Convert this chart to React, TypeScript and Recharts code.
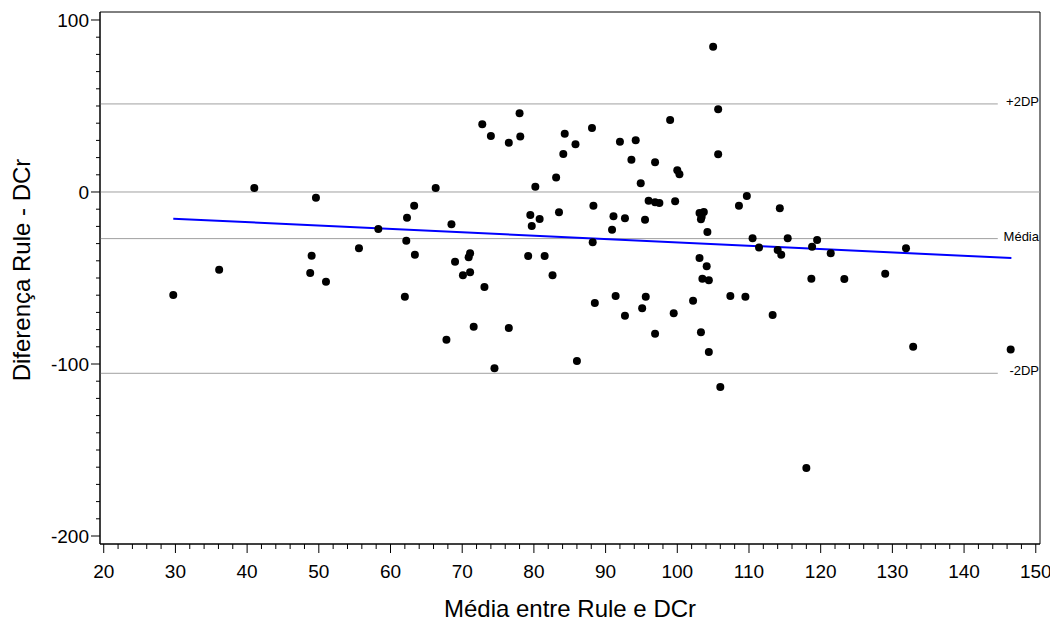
import React from 'react';
import { ScatterChart, Scatter, XAxis, YAxis, ReferenceLine, ReferenceArea } from 'recharts';

// Média entre Rule e DCr (x)
const avgValues = [
  41.0, 49.6, 63.3, 62.3, 58.3, 62.2, 55.6,
  29.7, 36.1, 49.0, 48.8, 51.0, 63.4, 62.0,
  105.0, 105.7, 99.0, 78.0, 72.8, 74.0, 76.5, 78.1, 84.3, 88.1,
  85.8, 84.1, 92.0, 94.2, 105.7, 93.6, 96.9, 100.0, 100.3, 83.1,
  94.9, 66.3, 80.2, 109.7, 96.0, 96.9, 97.5, 99.7, 88.3, 108.6,
  83.5, 79.5, 80.8, 91.1, 92.7, 95.5, 103.1, 103.7, 103.4, 103.3,
  79.7, 68.5, 90.9, 104.2, 88.2,
  71.1, 70.9, 69.0, 70.1, 71.1, 73.1, 79.2, 81.5, 82.6, 67.8,
  71.6, 76.5, 74.5, 86.0, 88.5, 91.4, 92.7, 95.6, 95.1, 96.9,
  99.5, 102.2, 103.1, 104.1, 103.5, 104.4, 103.3, 104.4, 107.4, 109.5,
  106.0,
  114.3, 110.5, 115.4, 119.5, 111.4, 114.0, 114.5, 118.8, 121.4, 131.9,
  118.7, 123.3, 129.0, 113.3, 132.9, 146.5, 118.0,
];

// Diferença Rule - DCr (y)
const diffValues = [
  2.3, -3.3, -8.0, -14.9, -21.5, -28.3, -32.7,
  -59.9, -45.2, -37.0, -47.1, -52.2, -36.5, -60.9,
  84.5, 48.1, 41.9, 45.8, 39.4, 32.6, 28.7, 32.2, 33.9, 37.2,
  27.7, 22.1, 29.2, 30.1, 21.9, 18.8, 17.3, 12.6, 10.3, 8.5,
  5.1, 2.3, 3.1, -2.3, -5.1, -6.0, -6.4, -5.4, -8.0, -8.0,
  -11.8, -13.4, -15.7, -14.1, -15.3, -16.1, -12.2, -11.6, -14.4, -15.9,
  -19.8, -18.8, -21.9, -23.3, -29.2,
  -35.6, -38.0, -40.5, -48.4, -46.7, -55.2, -37.2, -37.2, -48.4, -85.9,
  -78.3, -79.1, -102.5, -98.3, -64.5, -60.5, -71.9, -60.9, -67.6, -82.4,
  -70.5, -63.2, -38.4, -43.2, -50.4, -51.3, -81.6, -93.0, -60.5, -60.9,
  -113.4,
  -9.5, -26.9, -26.9, -27.9, -32.2, -33.7, -36.5, -31.8, -35.6, -32.7,
  -50.4, -50.6, -47.5, -71.5, -89.9, -91.5, -160.5,
];

const limitLabels = ['+2DP', 'Média', '-2DP'];
const limitValues = [51.2, -27.1, -105.4];
const limitEndX = 144.7;

const regressionX = [29.7, 146.6];
const regressionY = [-15.5, -38.4];

const xDomain = [19.48, 150.59];
const yDomain = [-204.65, 104.65];

const xTicks: number[] = [];
for (let v = 20; v <= 150; v += 2) xTicks.push(v);
const yTicks: number[] = [];
for (let v = -200; v <= 100; v += 10) yTicks.push(v);

const xTitle = 'Média entre Rule e DCr';
const yTitle = 'Diferença Rule - DCr';

const FONT = '"Liberation Sans", Arial, Helvetica, sans-serif';

const data = avgValues.map((x, i) => ({ x, y: diffValues[i] }));

const XTick = (props: any) => {
  const { x, y, payload } = props;
  const v = payload.value;
  const major = v % 10 === 0;
  return (
    <g>
      <line x1={x} x2={x} y1={y} y2={y + (major ? 9 : 5)} stroke="#000" strokeWidth={1} />
      {major && (
        <text x={x} y={y + 34} textAnchor="middle" fontSize={19} fontFamily={FONT} fill="#000">
          {v}
        </text>
      )}
    </g>
  );
};

const YTick = (props: any) => {
  const { x, y, payload } = props;
  const v = payload.value;
  const major = v % 100 === 0;
  return (
    <g>
      <line x1={x - (major ? 9 : 4)} x2={x} y1={y} y2={y} stroke="#000" strokeWidth={1} />
      {major && (
        <text x={x - 11} y={y + 7} textAnchor="end" fontSize={19} fontFamily={FONT} fill="#000">
          {v}
        </text>
      )}
    </g>
  );
};

export default function App() {
  return (
    <div style={{ width: 1050, height: 615, background: '#fff' }}>
      <ScatterChart
        width={1050}
        height={615}
        margin={{ top: 4, right: 18, bottom: 19, left: 32 }}
      >
        <XAxis
          type="number"
          dataKey="x"
          domain={xDomain}
          ticks={xTicks}
          allowDataOverflow
          interval={0}
          height={60}
          tickSize={0}
          tickMargin={0}
          tickLine={false}
          axisLine={{ stroke: '#000' }}
          tick={<XTick />}
          label={{
            content: (p: any) => (
              <text
                x={p.viewBox.x + p.viewBox.width / 2}
                y={p.viewBox.y + 73}
                textAnchor="middle"
                fontSize={24}
                fontFamily={FONT}
                fill="#000"
              >
                {xTitle}
              </text>
            ),
          }}
        />
        <YAxis
          type="number"
          dataKey="y"
          domain={yDomain}
          ticks={yTicks}
          allowDataOverflow
          interval={0}
          width={60}
          tickSize={0}
          tickMargin={0}
          tickLine={false}
          axisLine={{ stroke: '#000' }}
          tick={<YTick />}
        />
        <ReferenceArea
          x1={xDomain[0]}
          x2={xDomain[1]}
          y1={yDomain[0]}
          y2={yDomain[1]}
          fill="none"
          fillOpacity={0}
          stroke="#000"
          strokeWidth={1}
          ifOverflow="visible"
        />
        <ReferenceLine y={0} stroke="#a0a0a0" strokeWidth={1} />
        {limitValues.map((v, i) => (
          <ReferenceLine
            key={'seg' + i}
            segment={[
              { x: xDomain[0], y: v },
              { x: limitEndX, y: v },
            ]}
            stroke="#a0a0a0"
            strokeWidth={1}
            ifOverflow="visible"
          />
        ))}
        {limitValues.map((v, i) => (
          <ReferenceLine
            key={'lab' + i}
            y={v}
            stroke="none"
            label={{
              content: (p: any) => (
                <text
                  x={p.viewBox.x + p.viewBox.width - 1}
                  y={p.viewBox.y + 2}
                  textAnchor="end"
                  fontSize={13}
                  fontFamily={FONT}
                  fill="#000"
                >
                  {limitLabels[i]}
                </text>
              ),
            }}
          />
        ))}
        <ReferenceLine
          segment={[
            { x: regressionX[0], y: regressionY[0] },
            { x: regressionX[1], y: regressionY[1] },
          ]}
          stroke="#0000ff"
          strokeWidth={2}
          ifOverflow="visible"
        />
        <Scatter
          data={data}
          isAnimationActive={false}
          shape={(p: any) => <circle cx={p.cx} cy={p.cy} r={4} fill="#000" />}
        />
      </ScatterChart>
      <svg
        width={40}
        height={615}
        style={{ position: 'absolute', left: 8, top: 8, pointerEvents: 'none' }}
      >
        <text
          x={22}
          y={262}
          transform="rotate(-90, 22, 262)"
          textAnchor="middle"
          fontSize={24}
          fontFamily={FONT}
          fill="#000"
        >
          {yTitle}
        </text>
      </svg>
    </div>
  );
}
